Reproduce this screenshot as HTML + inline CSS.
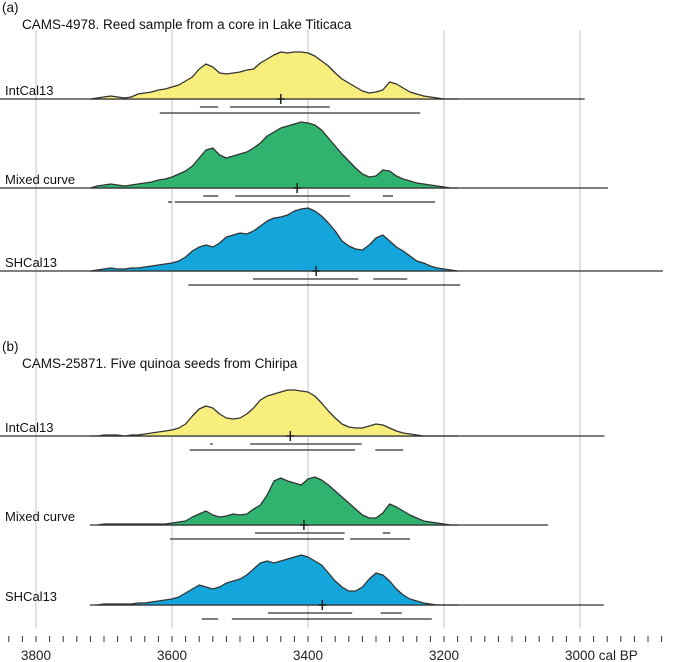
<!DOCTYPE html>
<html><head><meta charset="utf-8"><style>
html,body{margin:0;padding:0;background:#fff;}
svg{display:block;font-family:"Liberation Sans",sans-serif;}
</style></head><body>
<svg id="chart" width="675" height="662" viewBox="0 0 675 662" xmlns="http://www.w3.org/2000/svg"></svg>
<script>
const axisTicks = [3800, 3600, 3400, 3200, 3000];
const axisLabels = ["3800", "3600", "3400", "3200", "3000 cal BP"];
const startYear = 3720;
const stepYears = 10;
const names = ["IntCal13", "Mixed curve", "SHCal13", "IntCal13", "Mixed curve", "SHCal13"];
const densA1 = [0,1,2,3,2,1,2,5,6,7,9,10,12,14,18,22,30,35,32,26,25,26,27,29,30,36,40,44,47,46,47,47,46,43,38,33,26,20,16,12,8,6,7,9,17,15,11,7,5,3,2,1,0,0,0];
const densA2 = [0,2,3,4,3,2,3,4,5,6,8,9,11,14,17,22,30,38,40,33,30,32,34,36,40,45,52,56,60,62,64,66,65,63,58,50,42,34,27,20,14,11,12,18,17,12,9,7,5,4,3,2,1,0,0];
const densA3 = [0,1,2,3,2,2,3,3,4,5,6,7,8,10,14,20,24,26,24,28,34,36,38,37,40,45,50,53,54,56,60,62,63,60,55,48,40,30,25,22,21,26,33,36,30,24,20,15,10,8,5,3,2,1,0];
const densB1 = [0,0,1,1,1,0,1,1,2,3,4,5,6,8,12,20,27,30,28,22,18,17,18,22,28,36,40,42,44,46,46,45,44,40,33,25,18,12,9,8,8,10,12,11,8,5,3,2,1,0,0,0,0,0,0];
const densB2 = [0,0,1,1,1,1,1,1,1,1,1,1,2,3,4,8,11,14,10,8,9,11,10,11,16,20,30,44,47,44,42,40,46,48,45,40,34,28,22,16,10,7,7,12,21,18,14,10,7,4,3,2,1,0,0];
const densB3 = [0,0,1,1,1,1,1,2,2,3,4,5,6,8,12,16,20,18,16,18,22,24,26,30,36,42,44,42,44,46,48,50,48,44,40,32,24,18,14,14,18,26,32,30,24,16,10,6,4,2,1,0,0,0,0];
const medians = [3440, 3416, 3388, 3426, 3406, 3379];
const ranges68 = [[[3559,3532],[3515,3368]], [[3554,3532],[3507,3338],[3290,3275]], [[3481,3326],[3304,3254]], [[3544,3540],[3485,3321]], [[3478,3346],[3290,3279]], [[3459,3335],[3293,3262]]];
const ranges95 = [[[3618,3235]], [[3606,3600],[3596,3213]], [[3576,3176]], [[3574,3331],[3301,3260]], [[3603,3347],[3338,3250]], [[3556,3532],[3512,3218]]];
const baseStartYear = [3853, 3853, 3853, 3853, 3706, 3713];
const baseEndYear = [2993, 2959, 2878, 2964, 3047, 2965];

const dens = [densA1, densA2, densA3, densB1, densB2, densB3];
const baseY = [99, 188, 271, 436, 525, 605];
const fills = ["#f8ee7e", "#2fb36e", "#14a5db", "#f8ee7e", "#2fb36e", "#14a5db"];
const NS = "http://www.w3.org/2000/svg";
const svg = document.getElementById("chart");
function x(year){ return 36 + (3800 - year) * 0.68; }
function mk(tag, attrs, parent){ const e = document.createElementNS(NS, tag); for (const k in attrs) e.setAttribute(k, attrs[k]); (parent || svg).appendChild(e); return e; }

// grid
axisTicks.forEach((t, i) => {
  const g = mk("line", {x1:x(t), x2:x(t), y1:30, y2:628, stroke:"#c4c4c4", "stroke-width":1});
  
  
  const lb = mk("text", {x:x(t) - 15, y:660, "font-size":"13.5", fill:"#222"});
  lb.textContent = axisLabels[i];
  
  
});
for (let yv = 3840; yv >= 2880; yv -= 20) {
  const tk = mk("line", {x1:x(yv), x2:x(yv), y1:636, y2:642, stroke:"#333", "stroke-width":1});
  
  
}

// panel titles
[["(a)", 2, 12], ["CAMS-4978. Reed sample from a core in Lake Titicaca", 22, 29], ["(b)", 2, 351], ["CAMS-25871. Five quinoa seeds from Chiripa", 22, 368]].forEach((t, i) => {
  const e = mk("text", {x:t[1], y:t[2], "font-size":"13.5", fill:"#111"});
  e.textContent = t[0];
  
  
});

dens.forEach((d, k) => {
  const by = baseY[k];
  const g = mk("g", {});
  
  
  const bl = mk("line", {x1:x(baseStartYear[k]), x2:x(baseEndYear[k]), y1:by, y2:by, stroke:"#333", "stroke-width":1.3}, g);
  
  
  let p = "M" + x(startYear) + "," + by;
  d.forEach((v, i) => { p += " L" + x(startYear - i * stepYears).toFixed(1) + "," + (by - v).toFixed(1); });
  p += " L" + x(startYear - (d.length - 1) * stepYears) + "," + by + " Z";
  const area = mk("path", {d:p, fill:fills[k], stroke:"#333", "stroke-width":1.3, "stroke-linejoin":"round"}, g);
  
  
  const m = x(medians[k]);
  const c1 = mk("line", {x1:m - 4, x2:m + 4, y1:by, y2:by, stroke:"#222", "stroke-width":1.5}, g);
  
  
  const c2 = mk("line", {x1:m, x2:m, y1:by - 5, y2:by + 5, stroke:"#222", "stroke-width":1.5}, g);
  
  
  ranges68[k].forEach(r => {
    const l = mk("line", {x1:x(r[0]), x2:x(r[1]), y1:by + 8, y2:by + 8, stroke:"#333", "stroke-width":1.3}, g);
    
    
  });
  ranges95[k].forEach(r => {
    const l = mk("line", {x1:x(r[0]), x2:x(r[1]), y1:by + 14, y2:by + 14, stroke:"#333", "stroke-width":1.3}, g);
    
    
  });
  const lb = mk("text", {x:5, y:by - 4, "font-size":"13", fill:"#111"});
  lb.textContent = names[k];
  
  
});
</script>
</body></html>
